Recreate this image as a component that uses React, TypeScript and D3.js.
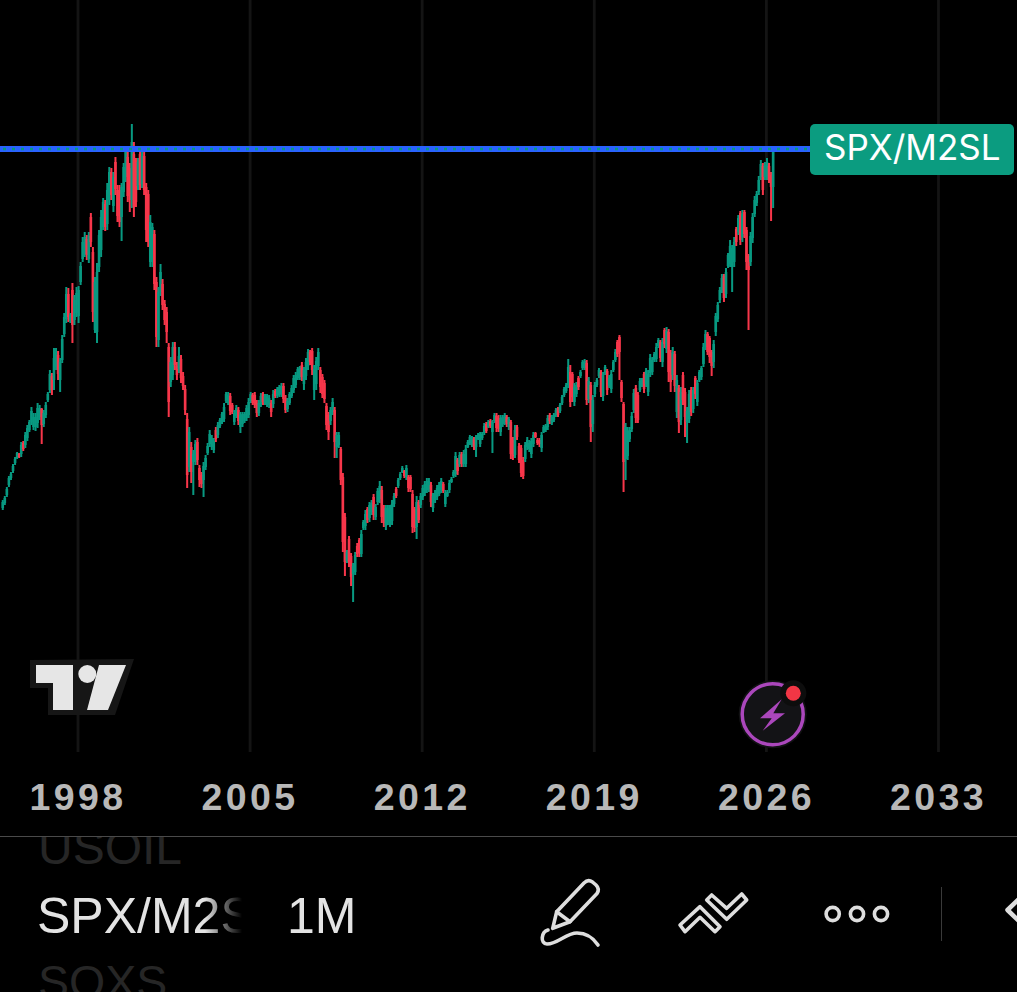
import * as d3 from 'd3';

const yearTicks = [1998, 2005, 2012, 2019, 2026, 2033];
const firstYear = 1994.94;
const symbol = 'SPX/M2SL';
const watchSymbol = 'SPX/M2S';
const interval = '1M';
const watchAbove = 'USOIL';
const watchBelow = 'SOXS';
const resistance = 603;

const highs = [
  252,256,265,276,280,288,295,300,299,310,311,320,327,332,345,339,339,349,347,344,
  342,350,360,382,379,404,404,401,394,417,439,465,464,439,469,457,465,466,490,515,
  520,517,520,539,505,475,489,522,542,554,552,569,585,584,580,595,567,567,569,589,
  604,600,589,628,610,594,594,603,600,600,569,562,537,529,522,475,465,488,473,452,
  445,409,395,410,410,390,405,397,380,367,339,325,310,302,312,314,287,280,290,297,
  309,322,317,314,325,330,334,340,349,360,360,
  359,349,342,347,345,340,340,340,347,
  354,360,359,360,352,352,359,360,358,358,
  357,352,362,363,365,367,369,369,357,354,360,
  367,377,380,385,386,390,385,394,403,402,404,387,395,404,385,378,
  372,349,340,345,354,345,320,320,
  305,279,239,202,216,199,189,200,209,214,222,232,242,245,250,252,258,248,264,271,
  266,247,247,247,247,252,259,265,274,280,286,282,287,277,277,
  262,245,256,252,259,267,271,274,274,270,259,262,267,270,
  274,270,262,262,272,275,282,300,294,300,300,302,307,312,317,316,
  315,317,319,320,320,329,330,332,333,332,339,339,337,337,
  337,339,337,335,332,315,327,327,309,307,295,310,315,312,314,320,320,314,314,320,
  327,328,337,339,337,339,344,345,349,357,365,369,393,387,380,369,370,376,382,392,
  393,392,375,370,357,370,374,384,382,380,387,383,377,382,392,403,412,417,372,350,
  329,325,325,340,363,367,360,374,374,380,384,382,398,395,400,409,414,412,414,424,
  425,423,402,405,401,377,367,365,380,364,345,362,365,365,376,372,382,386,409,422,
  420,416,402,412,439,450,465,478,478,484,499,512,507,515,525,537,541,542,542,525,
  498,520,539,556,561,576,592,589,590,594,589,580,603,
];

const lows = [
  242,247,255,265,272,279,287,293,294,295,301,304,311,320,327,322,321,324,332,308,
  325,334,350,359,357,362,382,372,360,389,415,429,430,429,409,427,435,429,467,490,
  495,492,489,505,430,419,409,480,495,522,521,522,547,552,540,557,530,525,511,555,
  570,550,540,544,535,545,562,562,564,557,510,505,485,485,462,405,405,456,442,427,
  409,335,365,372,382,372,379,369,362,337,264,280,269,257,287,287,265,264,255,282,
  297,305,302,299,310,314,324,328,330,349,347,
  337,338,327,334,327,319,325,329,331,
  334,349,347,344,335,336,345,347,347,345,
  344,335,344,354,354,355,355,349,339,340,347,
  354,359,364,372,372,371,362,372,382,387,377,352,362,382,359,354,
  349,322,312,327,337,294,294,304,
  267,200,176,189,185,166,150,177,195,195,195,222,222,229,230,237,232,232,247,249,
  229,225,222,227,225,227,245,254,264,272,279,274,272,260,260,
  219,220,213,229,244,252,256,259,260,245,240,249,252,256,
  259,259,245,255,259,269,274,275,277,285,285,285,285,304,307,305,
  302,295,312,305,312,317,319,324,324,299,329,320,320,316,
  325,327,325,322,293,292,294,312,289,275,273,290,302,300,294,305,314,307,305,300,
  319,320,322,328,327,330,335,335,339,347,355,359,364,345,350,346,355,362,374,382,
  382,347,349,310,320,355,365,374,355,351,377,357,364,359,380,390,395,372,350,260,
  272,292,310,320,339,329,329,360,365,359,365,356,375,377,390,390,404,390,385,404,
  399,370,360,372,360,334,319,327,347,315,309,329,336,339,353,346,370,372,385,402,
  397,389,376,384,416,430,449,459,450,454,484,485,460,485,506,517,507,510,514,482,
  422,486,509,535,546,557,572,557,572,572,569,531,544,
];

const opens = [
  244,249,257,267,274,281,289,294,298,298,309,307,314,322,330,325,325,329,335,343,
  328,337,352,362,376,372,385,397,372,392,418,433,458,431,462,432,439,436,470,493,
  498,513,493,535,500,422,420,485,502,525,548,528,552,580,546,590,562,562,535,560,
  575,595,584,552,598,590,566,598,568,596,565,558,490,490,518,470,412,460,468,448,
  440,405,370,377,405,386,383,393,376,363,333,285,305,290,290,310,284,277,272,285,
  299,308,305,302,322,317,326,331,333,351,349,
  356,347,330,336,342,325,328,331,334,
  337,351,357,357,349,339,348,358,349,347,
  347,349,348,361,356,357,358,366,354,343,349,
  356,362,367,374,375,387,368,376,386,400,401,362,368,386,382,375,
  369,346,337,331,340,342,305,307,
  303,275,235,191,213,196,178,180,206,212,198,224,226,243,234,240,255,235,250,253,
  262,244,226,230,228,231,248,263,266,274,280,281,275,275,275,
  258,243,225,250,247,255,259,262,263,267,244,252,255,258,
  262,268,248,256,262,270,276,278,292,288,298,288,288,305,309,307,
  313,305,313,308,314,319,328,325,331,320,331,336,334,320,
  328,330,335,325,330,312,297,325,306,304,292,293,305,303,298,308,319,312,312,304,
  320,322,325,337,329,332,337,343,341,349,357,361,367,380,378,350,358,374,376,384,
  384,389,353,367,328,358,367,376,380,356,379,381,366,363,382,392,410,415,370,348,
  293,296,313,323,342,364,357,362,367,378,368,360,379,380,392,393,406,410,390,422,
  403,420,399,377,398,340,364,332,377,360,330,333,362,343,374,350,372,375,388,405,
  418,414,400,390,420,433,452,462,476,458,486,488,485,490,523,520,539,515,540,522,
  496,490,514,538,549,560,575,586,575,576,586,577,565,
];

const closes = [
  250,254,263,274,278,286,293,299,295,307,303,317,324,330,341,335,335,344,344,327,
  339,347,358,378,362,394,400,378,390,413,435,458,435,437,427,452,459,462,486,510,
  515,497,516,510,440,470,480,517,535,550,525,562,580,557,575,563,536,530,565,585,
  600,556,552,610,545,550,590,567,596,562,522,510,530,525,468,415,460,480,447,432,
  420,350,390,405,387,377,396,374,366,342,277,320,280,298,308,292,272,268,286,294,
  306,318,314,311,313,327,332,338,345,358,357,
  341,340,339,344,331,337,338,338,344,
  350,358,349,347,339,349,356,350,356,356,
  354,340,358,356,363,365,366,353,342,351,358,
  364,374,377,383,384,375,382,390,400,390,382,383,391,400,365,358,
  353,327,320,342,350,310,317,317,
  272,210,190,200,190,175,186,197,198,199,218,230,238,232,247,249,237,245,261,266,
  235,229,244,244,244,248,256,256,272,278,284,276,284,264,263,
  225,224,250,232,256,264,268,271,271,250,256,259,264,267,
  271,261,259,260,269,273,280,296,281,297,288,298,303,310,315,314,
  305,315,317,318,318,326,321,330,326,330,337,324,323,334,
  335,337,328,333,298,296,322,315,292,279,276,307,312,309,311,317,315,309,308,317,
  325,326,334,331,335,337,342,337,347,355,363,367,385,350,355,365,367,365,380,390,
  391,352,371,325,352,367,372,382,360,377,385,362,374,378,390,400,398,400,354,290,
  325,321,322,336,359,334,332,371,372,363,381,378,394,392,398,405,412,394,410,408,
  421,380,370,400,366,372,330,360,352,335,341,358,340,362,358,369,380,384,405,418,
  400,395,386,408,436,447,462,474,454,480,497,506,504,510,510,534,512,538,518,490,
  482,516,535,552,558,572,588,562,587,590,572,565,600,
];

const UP = '#089981';
const DOWN = '#f7364a';
const ICON = '#dedede';

export default function App() {
  const width = 1017;
  const height = 992;
  const plotBottom = 752;

  const x = d3.scaleLinear().domain([1998, 2033]).range([78, 938.5]);
  const y = d3.scaleLinear().domain([0, plotBottom]).range([plotBottom, 0]);
  const sans = '"Liberation Sans", Arial, sans-serif';

  return (
    <svg
      width={width}
      height={height}
      viewBox={`0 0 ${width} ${height}`}
      style={{ position: 'absolute', left: 0, top: 0, background: '#000' }}
    >
      <defs>
        <linearGradient id="fade" gradientUnits="userSpaceOnUse" x1={205} x2={242} y1={0} y2={0}>
          <stop offset="0" stopColor="#e3e3e3" />
          <stop offset="1" stopColor="#e3e3e3" stopOpacity={0} />
        </linearGradient>
        <clipPath id="watch">
          <rect x={0} y={837} width={width} height={155} />
        </clipPath>
      </defs>

      {/* Grid */}
      {yearTicks.map((t) => (
        <line key={t} x1={x(t)} x2={x(t)} y1={0} y2={plotBottom} stroke="#141414" strokeWidth={2.8} />
      ))}

      {/* Candles */}
      {closes.map((c, i) => {
        const cx = x(firstYear + i / 12);
        const color = c >= opens[i] ? UP : DOWN;
        const top = y(Math.max(opens[i], c));
        const bottom = y(Math.min(opens[i], c));
        return (
          <g key={i} fill={color}>
            <rect x={cx - 1} y={y(highs[i])} width={2} height={y(lows[i]) - y(highs[i])} />
            <rect x={cx - 1.3} y={top} width={2.6} height={Math.max(bottom - top, 1)} />
          </g>
        );
      })}

      {/* Horizontal level and symbol label */}
      <line x1={0} x2={810} y1={y(resistance)} y2={y(resistance)} stroke="#2962ff" strokeWidth={6} />
      <line x1={3} x2={810} y1={y(resistance)} y2={y(resistance)} stroke={UP} strokeWidth={2.5} strokeDasharray="3 6" />
      <rect x={810} y={124} width={204} height={51} rx={5} fill="#0b9c80" />
      <text x={824} y={159.5} fill="#fff" fontFamily="Inter, sans-serif" fontSize={35}>{symbol}</text>

      {/* Logo */}
      <polygon points="30,660 134,659 115,715 48,715 48,688 30,688" fill="#161616" />
      <polygon points="36,665 73,665 73,710 53,710 53,683 36,683" fill="#e6e6e6" />
      <circle cx={87.3} cy={674} r={9} fill="#e6e6e6" />
      <polygon points="99,665 126,665 108,710 87,710" fill="#e6e6e6" />

      {/* Bolt button */}
      <circle cx={772.7} cy={714.3} r={34} fill="#111113" />
      <circle cx={772.7} cy={714.3} r={30.5} fill="#131316" stroke="#ab47bc" strokeWidth={3.5} />
      <polygon
        points="781.7,699.3 760,718.3 771.7,718.3 762.7,730.7 785,713.3 773.3,713.3"
        fill="#ab47bc"
      />
      <circle cx={793.3} cy={693.3} r={13} fill="#0d0d0d" />
      <circle cx={793.3} cy={693.3} r={7.5} fill="#f23645" />

      {/* Time axis */}
      {yearTicks.map((t) => (
        <text
          key={t}
          x={x(t)}
          y={810}
          textAnchor="middle"
          fill="#b8b8b8"
          fontFamily={sans}
          fontWeight="bold"
          fontSize={37.5}
          letterSpacing={3.4}
        >
          {t}
        </text>
      ))}
      <line x1={0} x2={width} y1={836.5} y2={836.5} stroke="#4a4a4a" strokeWidth={1} />

      {/* Toolbar */}
      <g clipPath="url(#watch)" fontFamily={sans}>
        <text x={38} y={864} fill="#262626" fontSize={48}>{watchAbove}</text>
        <text x={38} y={998} fill="#262626" fontSize={46.5}>{watchBelow}</text>
        <text x={37} y={933} fill="url(#fade)" fontSize={50}>{watchSymbol}</text>
        <text x={287} y={933} fill="#e3e3e3" fontSize={50}>{interval}</text>
      </g>

      <g fill="none" stroke={ICON} strokeWidth={3.6} strokeLinecap="round" strokeLinejoin="round">
        <path d="M552.7,928.3 L556.7,911.7 L584,883 Q588,879 592.5,882 L596,885 Q600,889 597,893.5 L570,921.7 Z" />
        <path d="M556.7,911.7 L570,921.7" />
        <path d="M548,930 C541,932 540,944 547,944 C558,944 566,933 577,933 C587,933 594,939 598,945" />
        <path d="M680,925 L700,906.7 L720,926.7 L715,931.7 L700,917.3 L685,931.7 Z" />
        <path d="M706.7,900 L711.7,895 L726.7,908.3 L741.7,894 L746.7,900 L726.7,919.3 Z" />
        <circle cx={832.7} cy={914} r={6.6} />
        <circle cx={857} cy={914} r={6.6} />
        <circle cx={881} cy={914} r={6.6} />
        <path d="M1019,899 L1007.5,910 L1019,921" strokeWidth={4.5} />
      </g>
      <line x1={941.5} x2={941.5} y1={887} y2={941} stroke="#3a3a3a" strokeWidth={1} />
    </svg>
  );
}
